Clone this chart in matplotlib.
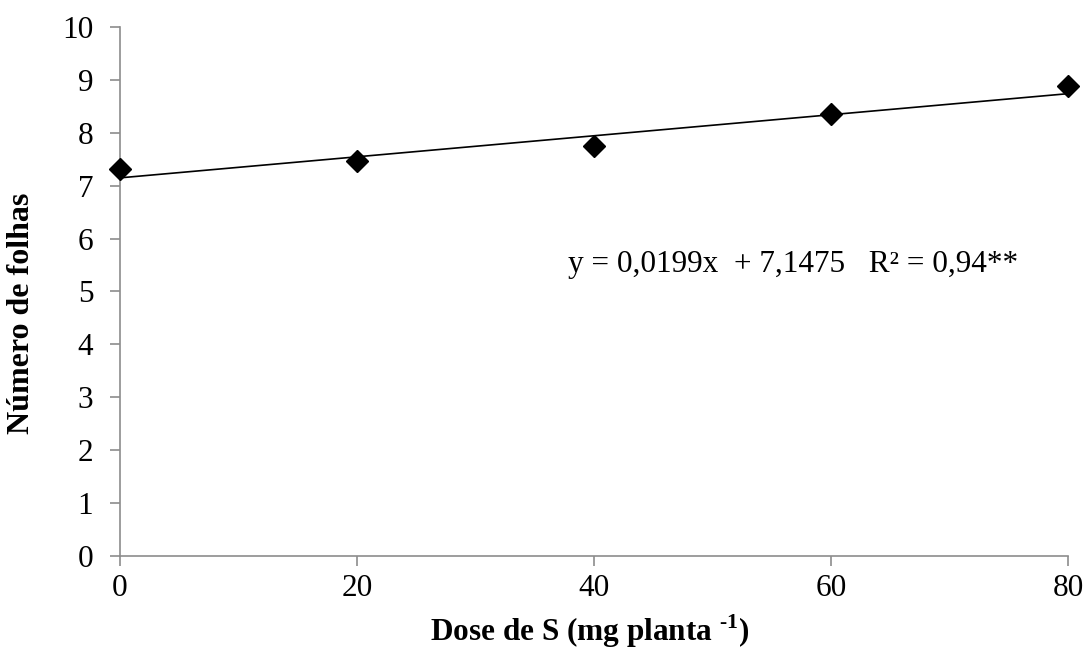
import matplotlib.pyplot as plt
import numpy as np

# dados
dose = [0, 20, 40, 60, 80]
folhas = [7.32, 7.47, 7.75, 8.36, 8.88]
a, b = 0.0199, 7.1475  # y = a*x + b

plt.rcParams['font.family'] = ['Liberation Serif', 'DejaVu Serif']
plt.rcParams['mathtext.fontset'] = 'custom'
plt.rcParams['mathtext.rm'] = 'Liberation Serif:bold'
plt.rcParams['mathtext.bf'] = 'Liberation Serif:bold'

fig = plt.figure(figsize=(10.88, 6.54), dpi=100)
ax = fig.add_axes([0.110, 0.150, 0.8716, 0.8087])

xs = np.array([0, 80])
ax.plot(xs, a * xs + b, color='black', lw=1.2, clip_on=False, zorder=2)
ax.plot(dose, folhas, 'D', color='black', ms=11, clip_on=False, zorder=3)

ax.set_xlim(0, 80)
ax.set_ylim(0, 10)
ax.set_xticks(range(0, 81, 20))
ax.set_yticks(range(0, 11))

for s in ['top', 'right']:
    ax.spines[s].set_visible(False)
for s in ['left', 'bottom']:
    ax.spines[s].set_color('#8c8c8c')
    ax.spines[s].set_linewidth(1.2)
ax.tick_params(axis='both', direction='out', length=7, width=1.2,
               color='#8c8c8c', labelsize=22.5)
ax.tick_params(axis='x', pad=6)
ax.tick_params(axis='y', pad=12)

ax.set_xlabel('Dose de S (mg planta $^{\\text{-1}}$)', fontsize=22.5,
              fontweight='bold')
ax.xaxis.set_label_coords(0.496, -0.106)
ax.set_ylabel('Número de folhas', fontsize=23, fontweight='bold')
ax.yaxis.set_label_coords(-0.088, 0.458)

ax.text(37.8, 5.37, 'y = 0,0199x  + 7,1475   R² = 0,94**', fontsize=22.5,
        va='baseline')

fig.savefig('out.png', dpi=100)
